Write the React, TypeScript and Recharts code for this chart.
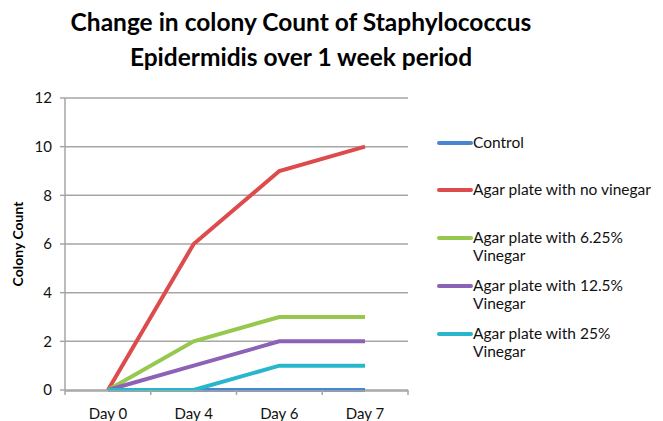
import { LineChart, Line, XAxis, YAxis, CartesianGrid } from 'recharts';

const days = ['Day 0', 'Day 4', 'Day 6', 'Day 7'];
const control = [0, 0, 0, 0];
const noVinegar = [0, 6, 9, 10];
const vinegar625 = [0, 2, 3, 3];
const vinegar125 = [0, 1, 2, 2];
const vinegar25 = [0, 0, 1, 1];
const yTicks = [0, 2, 4, 6, 8, 10, 12];
const edgeTicks = [0, 1, 2, 3, 4];

const seriesInfo = [
  { key: 'control', name: 'Control', lines: ['Control'], color: '#4a86d0', values: control },
  { key: 'noVinegar', name: 'Agar plate with no vinegar', lines: ['Agar plate with no vinegar'], color: '#dd4b4c', values: noVinegar },
  { key: 'v625', name: 'Agar plate with 6.25% Vinegar', lines: ['Agar plate with 6.25%', 'Vinegar'], color: '#96c84e', values: vinegar625 },
  { key: 'v125', name: 'Agar plate with 12.5% Vinegar', lines: ['Agar plate with 12.5%', 'Vinegar'], color: '#8b62b5', values: vinegar125 },
  { key: 'v25', name: 'Agar plate with 25% Vinegar', lines: ['Agar plate with 25%', 'Vinegar'], color: '#27b6cb', values: vinegar25 },
];

const data = days.map((d, i) => {
  const row: any = { day: d, edge: i };
  seriesInfo.forEach((s) => { row[s.key] = s.values[i]; });
  return row;
});

// legend rows: top offset of each entry (in px)
const legendTops = [133, 180, 228, 276, 324];

const font = 'Lato, "Open Sans", sans-serif';

export default function App() {
  return (
    <div style={{ position: 'fixed', left: 0, top: 0, width: 663, height: 421, background: '#fff', fontFamily: font }}>
      <div style={{ position: 'absolute', left: 0, width: 602, top: 4, textAlign: 'center', fontWeight: 700, fontSize: 24.5, lineHeight: '35px', color: '#000' }}>
        Change in colony Count of Staphylococcus<br />Epidermidis over 1 week period
      </div>
      <LineChart width={663} height={421} data={data} margin={{ top: 98, right: 255, bottom: 1, left: 30 }}>
        <CartesianGrid vertical={false} xAxisId="x2" stroke="#a6a6a6" strokeWidth={1.5} />
        {/* only draws the small tick marks between the days */}
        <XAxis
          xAxisId="x1"
          type="number"
          dataKey="edge"
          domain={[0, 4]}
          allowDataOverflow
          ticks={edgeTicks}
          interval={0}
          height={1}
          axisLine={false}
          tickLine={{ stroke: '#a6a6a6', strokeWidth: 1.5 }}
          tickSize={5}
          tick={() => <g />}
        />
        <XAxis
          xAxisId="x2"
          dataKey="day"
          height={29}
          padding={{ left: 43, right: 43 }}
          axisLine={{ stroke: '#a6a6a6', strokeWidth: 1.5 }}
          tickLine={false}
          tick={{ fill: '#111', fontSize: 15, fontFamily: font }}
          tickMargin={11}
        />
        <YAxis
          width={35}
          domain={[0, 12]}
          ticks={yTicks}
          interval={0}
          axisLine={{ stroke: '#a6a6a6', strokeWidth: 1.5 }}
          tickLine={{ stroke: '#a6a6a6', strokeWidth: 1.5 }}
          tickSize={5}
          tickMargin={8}
          tick={{ fill: '#111', fontSize: 15, fontFamily: font }}
          label={{ value: 'Colony Count', angle: -90, position: 'insideLeft', offset: -12, style: { fontWeight: 700, fontSize: 14, fill: '#000', fontFamily: font, textAnchor: 'middle' } }}
        />
        {seriesInfo.map((s) => (
          <Line
            key={s.key}
            xAxisId="x2"
            dataKey={s.key}
            name={s.name}
            stroke={s.color}
            strokeWidth={4}
            dot={false}
            activeDot={false}
            type="linear"
            isAnimationActive={false}
          />
        ))}
      </LineChart>
      {seriesInfo.map((s, i) => (
        <div key={s.key} style={{ position: 'absolute', left: 437, top: legendTops[i], width: 226, fontSize: 15.5, lineHeight: '18px', color: '#111' }}>
          <span style={{ position: 'absolute', left: 0, top: 8, width: 36, height: 4, borderRadius: 2, background: s.color }} />
          <div style={{ marginLeft: 36 }}>
            {s.lines.map((t, j) => <div key={j}>{t}</div>)}
          </div>
        </div>
      ))}
    </div>
  );
}
